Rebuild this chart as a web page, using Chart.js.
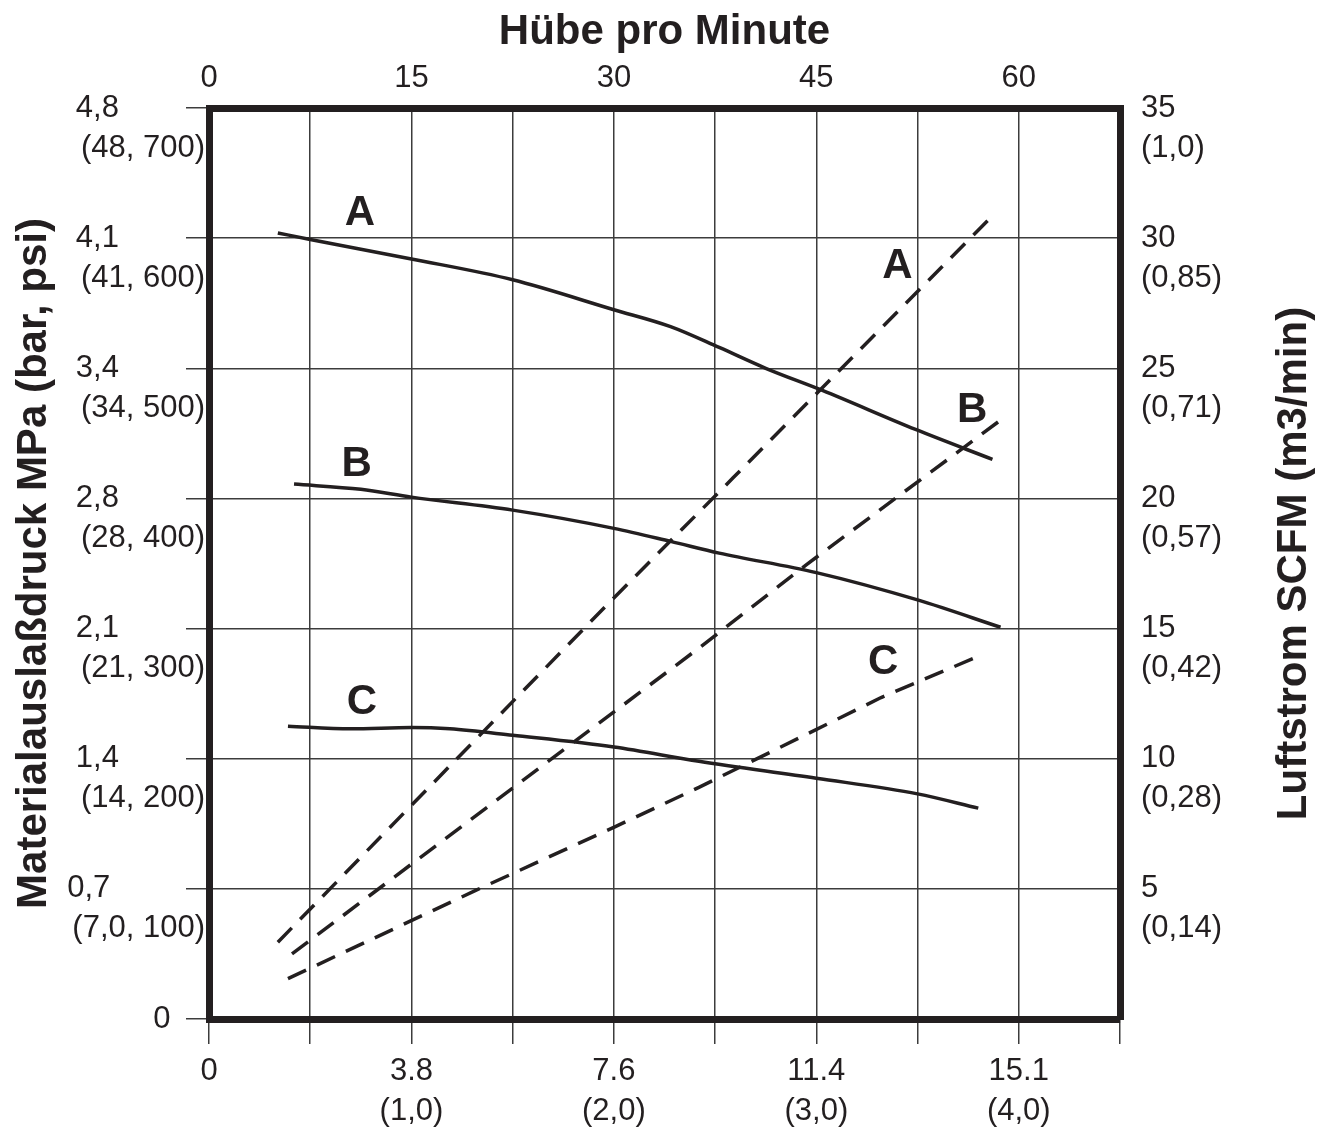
<!DOCTYPE html>
<html>
<head>
<meta charset="utf-8">
<title>Hübe pro Minute</title>
<script src="https://cdn.jsdelivr.net/npm/chart.js@4.4.1/dist/chart.umd.min.js"></script>
<style>
  body { margin: 0; background: #fff; }
  #wrap { width: 1322px; height: 1133px; }
</style>
</head>
<body>
<div id="wrap"><canvas id="pump"></canvas></div>
<script>
// fluid pressure curves (x = gpm, y = psi)
var solidAX = [0.34, 0.50, 1.00, 1.50, 2.00, 2.28, 2.52, 2.75, 3.03, 3.49, 3.87];
var solidAY = [604, 599, 584, 568, 545, 532, 516, 500, 483, 453, 430];
var solidBX = [0.42, 0.75, 1.00, 1.50, 2.00, 2.28, 2.52, 3.00, 3.50, 3.91];
var solidBY = [411, 407, 401, 391, 377, 367, 358, 343, 322, 301];
var solidCX = [0.39, 0.70, 1.00, 1.19, 1.50, 2.00, 2.42, 3.00, 3.50, 3.80];
var solidCY = [225, 223, 224, 223, 218, 209, 198, 185, 173, 162];

// air consumption curves (x = gpm, y = SCFM)
var airAX = [0.34, 1.99, 2.59, 3.85];
var airAY = [2.95, 16.1, 20.8, 30.7];
var airBX = [0.41, 2.42, 2.95, 3.90];
var airBY = [2.5, 14.25, 17.45, 22.95];
var airCX = [0.39, 1.32, 2.01, 2.42, 3.32, 3.79];
var airCY = [1.55, 4.95, 7.4, 8.9, 12.35, 13.9];

// curve letters
var letterText = ['A', 'B', 'C', 'A', 'B', 'C'];
var letterX = [0.745, 0.73, 0.755, 3.40, 3.77, 3.33];
var letterY = [619, 426, 243, 28.9, 23.4, 13.7];
var letterAxis = ['yPsi', 'yPsi', 'yPsi', 'yAir', 'yAir', 'yAir'];

// tick labels
var lpmLabels = ['0', '3.8', '7.6', '11.4', '15.1'];
var gpmLabels = ['', '(1,0)', '(2,0)', '(3,0)', '(4,0)'];
var cycleLabels = ['0', '15', '30', '45', '60'];
var mpaLabels = ['0', '0,7', '1,4', '2,1', '2,8', '3,4', '4,1', '4,8'];
var barPsiLabels = ['', '(7,0, 100)', '(14, 200)', '(21, 300)', '(28, 400)', '(34, 500)', '(41, 600)', '(48, 700)'];
var scfmLabels = ['', '5', '10', '15', '20', '25', '30', '35'];
var m3Labels = ['', '(0,14)', '(0,28)', '(0,42)', '(0,57)', '(0,71)', '(0,85)', '(1,0)'];

var ink = '#231f20';
var gridInk = '#3c3c3c';
var fam = '"Liberation Sans", Arial, Helvetica, sans-serif';

// pad a line with spaces so both lines of a label start at the same x
var mctx = document.createElement('canvas').getContext('2d');
mctx.font = '31px ' + fam;
function padTo(str, width) {
    var s = str;
    while (mctx.measureText(s).width < width - 3) s += ' ';
    return s;
}
function w(str) { return mctx.measureText(str).width; }

function pts(xs, ys) {
    return xs.map(function(x, i) { return {x: x, y: ys[i]}; });
}

function line(xs, ys, axis, dashed) {
    return {
        data: pts(xs, ys),
        yAxisID: axis,
        borderColor: ink,
        borderWidth: 3.5,
        borderDash: dashed ? [20, 12] : [],
        borderCapStyle: 'butt',
        pointRadius: 0,
        fill: false,
        cubicInterpolationMode: dashed ? 'default' : 'monotone',
        tension: dashed ? 0 : 0.4
    };
}

var tickFont = {family: fam, size: 31, lineHeight: 1.29};
var titleFont = {family: fam, size: 42, weight: 'bold', lineHeight: 1.2};

var lettersAndTitle = {
    id: 'lettersAndTitle',
    afterDatasetsDraw: function(chart) {
        var ctx = chart.ctx;
        var xs = chart.scales.x;
        ctx.save();
        ctx.fillStyle = ink;
        ctx.font = 'bold 42px ' + fam;
        ctx.textAlign = 'center';
        ctx.textBaseline = 'middle';
        for (var i = 0; i < letterText.length; i++) {
            var ys = chart.scales[letterAxis[i]];
            ctx.fillText(letterText[i], xs.getPixelForValue(letterX[i]), ys.getPixelForValue(letterY[i]));
        }
        // right axis title, reading bottom to top
        var r = chart.scales.yAir;
        ctx.translate(r.right - 28, (chart.chartArea.top + chart.chartArea.bottom) / 2);
        ctx.rotate(-Math.PI / 2);
        ctx.fillText('Luftstrom SCFM (m3/min)', 0, 0);
        ctx.restore();
    }
};

new Chart(document.getElementById('pump'), {
    type: 'line',
    data: {
        datasets: [
            line(solidAX, solidAY, 'yPsi', false),
            line(solidBX, solidBY, 'yPsi', false),
            line(solidCX, solidCY, 'yPsi', false),
            line(airAX, airAY, 'yAir', true),
            line(airBX, airBY, 'yAir', true),
            line(airCX, airCY, 'yAir', true)
        ]
    },
    options: {
        responsive: true,
        maintainAspectRatio: false,
        animation: false,
        layout: {padding: 0},
        plugins: {legend: {display: false}, tooltip: {enabled: false}},
        scales: {
            x: {
                type: 'linear',
                position: 'bottom',
                min: 0, max: 4.5,
                afterFit: function(s) { s.height = 114; },
                grid: {color: gridInk, lineWidth: 1.5, tickLength: 25},
                border: {display: true, color: ink, width: 7},
                ticks: {
                    stepSize: 0.5, autoSkip: false, maxRotation: 0, padding: 7,
                    color: ink, font: tickFont,
                    callback: function(v) {
                        if (v % 1 !== 0) return '';
                        if (v === 0) return lpmLabels[0];
                        return [lpmLabels[v], gpmLabels[v]];
                    }
                }
            },
            xTop: {
                type: 'linear',
                position: 'top',
                min: 0, max: 67.5,
                afterFit: function(s) { s.height = 108; },
                grid: {display: false, drawTicks: false},
                border: {display: true, color: ink, width: 7},
                title: {display: true, text: 'Hübe pro Minute', color: ink, font: titleFont, padding: {top: 7, bottom: 0}},
                ticks: {
                    stepSize: 7.5, autoSkip: false, maxRotation: 0, padding: 10,
                    color: ink, font: tickFont,
                    callback: function(v) {
                        return v % 15 === 0 ? cycleLabels[v / 15] : '';
                    }
                }
            },
            yPsi: {
                type: 'linear',
                position: 'left',
                min: 0, max: 700,
                afterFit: function(s) { s.width = 209; },
                grid: {color: gridInk, lineWidth: 1.5, tickLength: 23},
                border: {display: true, color: ink, width: 7},
                title: {display: true, text: 'Materialauslaßdruck MPa (bar, psi)', color: ink, font: titleFont, padding: {top: 9, bottom: 0}},
                ticks: {
                    stepSize: 100, autoSkip: false, padding: -19,
                    color: ink, font: tickFont,
                    callback: function(v) {
                        var i = Math.round(v / 100);
                        if (i === 0) return padTo(mpaLabels[0], w(mpaLabels[0]) + 30);
                        return ['', padTo(mpaLabels[i], w(barPsiLabels[i])), barPsiLabels[i]];
                    }
                }
            },
            yAir: {
                type: 'linear',
                position: 'right',
                min: 0, max: 35,
                afterFit: function(s) { s.width = 202; },
                grid: {display: false, drawTicks: false},
                border: {display: true, color: ink, width: 7},
                ticks: {
                    stepSize: 5, autoSkip: false, padding: 21,
                    color: ink, font: tickFont,
                    callback: function(v) {
                        var i = Math.round(v / 5);
                        if (i === 0) return '';
                        return ['', scfmLabels[i], m3Labels[i]];
                    }
                }
            }
        }
    },
    plugins: [lettersAndTitle]
});
</script>
</body>
</html>
